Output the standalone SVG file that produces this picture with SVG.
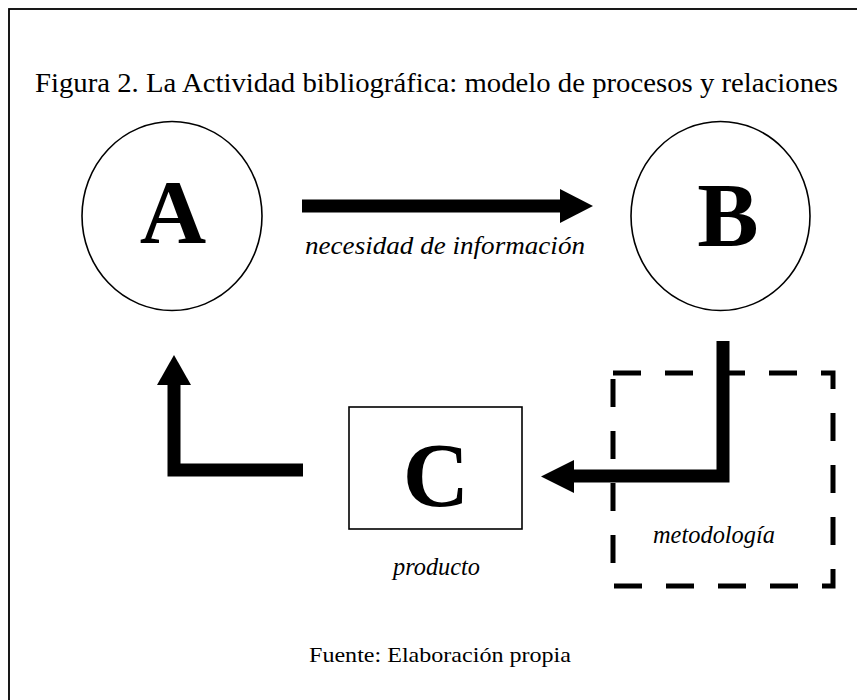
<svg xmlns="http://www.w3.org/2000/svg" width="857" height="700" viewBox="0 0 857 700">
<style>
text { font-family: "Liberation Serif", "DejaVu Serif", serif; fill: #000; }
.big { font-weight: bold; font-size: 92px; text-anchor: middle; }
.lbl { font-style: italic; font-size: 25px; }
.node { fill: #fff; stroke: #000; stroke-width: 1.6; }
.shaft { fill: none; stroke: #000; stroke-width: 13; }
.head { fill: #000; stroke: none; }
</style>
<rect x="0" y="0" width="857" height="700" fill="#fff"/>
<rect x="9" y="9" width="860" height="700" fill="none" stroke="#000" stroke-width="1.8"/>
<text x="35" y="92" font-size="28" textLength="803" lengthAdjust="spacingAndGlyphs">Figura 2. La Actividad bibliográfica: modelo de procesos y relaciones</text>
<g id="node-A">
<ellipse class="node" cx="172" cy="216" rx="90" ry="94.5"/>
<text class="big" x="173" y="243">A</text>
</g>
<g id="node-B">
<ellipse class="node" cx="720.5" cy="216" rx="89.5" ry="94.5"/>
<text class="big" x="728" y="246">B</text>
</g>
<g id="node-C">
<rect class="node" x="349" y="407" width="173" height="122"/>
<text class="big" x="436" y="506">C</text>
</g>
<g id="methodology">
<path d="M613 373 H833 V586 H613 Z" fill="none" stroke="#000" stroke-width="5" stroke-dasharray="28 24"/>
<text class="lbl" x="653" y="543" textLength="122" lengthAdjust="spacingAndGlyphs">metodología</text>
</g>
<g id="connectors">
<g id="edge-A-B">
<path class="shaft" d="M302 206 H562"/>
<polygon class="head" points="560,189 593,206 560,223"/>
<text class="lbl" x="305" y="254" textLength="280" lengthAdjust="spacingAndGlyphs">necesidad de información</text>
</g>
<g id="edge-B-C">
<path class="shaft" d="M723 341 V476 H571" stroke-linejoin="miter"/>
<polygon class="head" points="574,460 541,476.5 574,493"/>
</g>
<g id="edge-C-A">
<path class="shaft" d="M303 470 H174 V383" stroke-linejoin="miter"/>
<polygon class="head" points="157,385 174,355 191,385"/>
</g>
<text class="lbl" x="393" y="575" textLength="87" lengthAdjust="spacingAndGlyphs">producto</text>
</g>
<text x="309" y="662" font-size="22" textLength="262" lengthAdjust="spacingAndGlyphs">Fuente: Elaboración propia</text>
</svg>
